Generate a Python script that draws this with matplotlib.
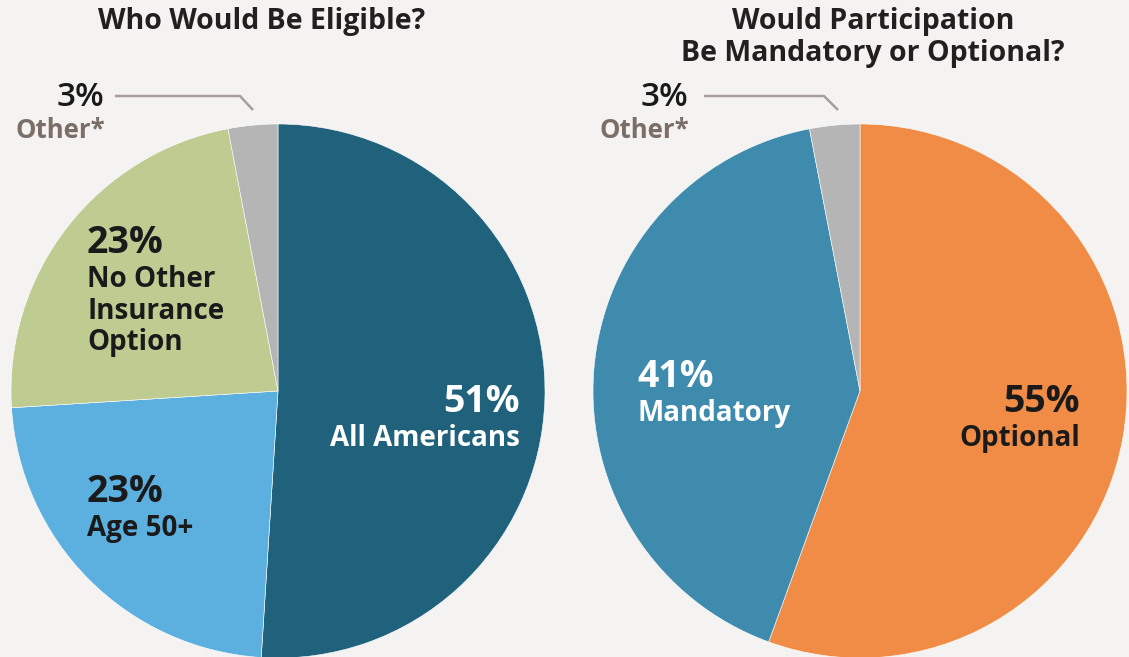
import matplotlib.pyplot as plt

# Two pie charts: eligibility and participation
eligible_labels = ["All Americans", "Age 50+", "No Other\nInsurance\nOption", "Other*"]
eligible_values = [51, 23, 23, 3]
eligible_colors = ["#20627b", "#5cb0e0", "#bfcc91", "#b5b5b5"]

particip_labels = ["Optional", "Mandatory", "Other*"]
particip_values = [55, 41, 3]
particip_colors = ["#f08c46", "#3f8bae", "#b5b5b5"]

W, H = 1129, 657
bg = "#f4f3f1"
font = ["Open Sans", "DejaVu Sans"]

fig = plt.figure(figsize=(W / 100, H / 100), dpi=100, facecolor=bg)
ax = fig.add_axes([0, 0, 1, 1])
ax.set_facecolor(bg)

def py(y):
    # convert pixel row (from top) to data y
    return H - y

ax.pie(eligible_values, colors=eligible_colors, startangle=90, counterclock=False,
       center=(278, py(391)), radius=267,
       wedgeprops=dict(edgecolor="white", linewidth=0.4))
ax.pie(particip_values, colors=particip_colors, startangle=90, counterclock=False,
       center=(860, py(391)), radius=267,
       wedgeprops=dict(edgecolor="white", linewidth=0.4))

ax.set_xlim(0, W)
ax.set_ylim(0, H)
ax.set_aspect("equal")
ax.axis("off")

dark = "#1a1a1a"
title_kw = dict(family=font, fontweight="bold", fontsize=20.5, color="#231f20",
                ha="center", va="center")
ax.text(262, py(21), "Who Would Be Eligible?", **title_kw)
ax.text(873, py(21), "Would Participation", **title_kw)
ax.text(873, py(54), "Be Mandatory or Optional?", **title_kw)

def label(x, y, ha, color, pct, name):
    ax.text(x, py(y), f"{pct}%", family=font, fontweight="bold", fontsize=27,
            color=color, ha=ha, va="center")
    ax.text(x, py(y + 22), name, family=font, fontweight="bold", fontsize=20,
            color=color, ha=ha, va="top", linespacing=1.12)

label(520, 402, "right", "white", eligible_values[0], eligible_labels[0])
label(87, 492, "left", dark, eligible_values[1], eligible_labels[1])
label(87, 243, "left", dark, eligible_values[2], eligible_labels[2])
label(1080, 402, "right", dark, particip_values[0], particip_labels[0])
label(637, 377, "left", "white", particip_values[1], particip_labels[1])

# small "Other" callouts with leader lines
grey_txt = "#7a6e66"
line_c = "#a99f98"
for x_txt, x0, x1, x2, val in [(104, 115, 240, 253, eligible_values[3]),
                               (688, 704, 824, 838, particip_values[2])]:
    ax.text(x_txt, py(97), f"{val}%", family=font, fontweight="semibold", fontsize=24,
            color=dark, ha="right", va="center")
    ax.text(x_txt + 1, py(130), "Other*", family=font, fontweight="bold", fontsize=18.5,
            color=grey_txt, ha="right", va="center")
    ax.plot([x0, x1, x2], [py(96), py(96), py(110)], color=line_c, lw=1.8,
            solid_capstyle="butt")

fig.savefig("out.png", dpi=100, facecolor=bg)
